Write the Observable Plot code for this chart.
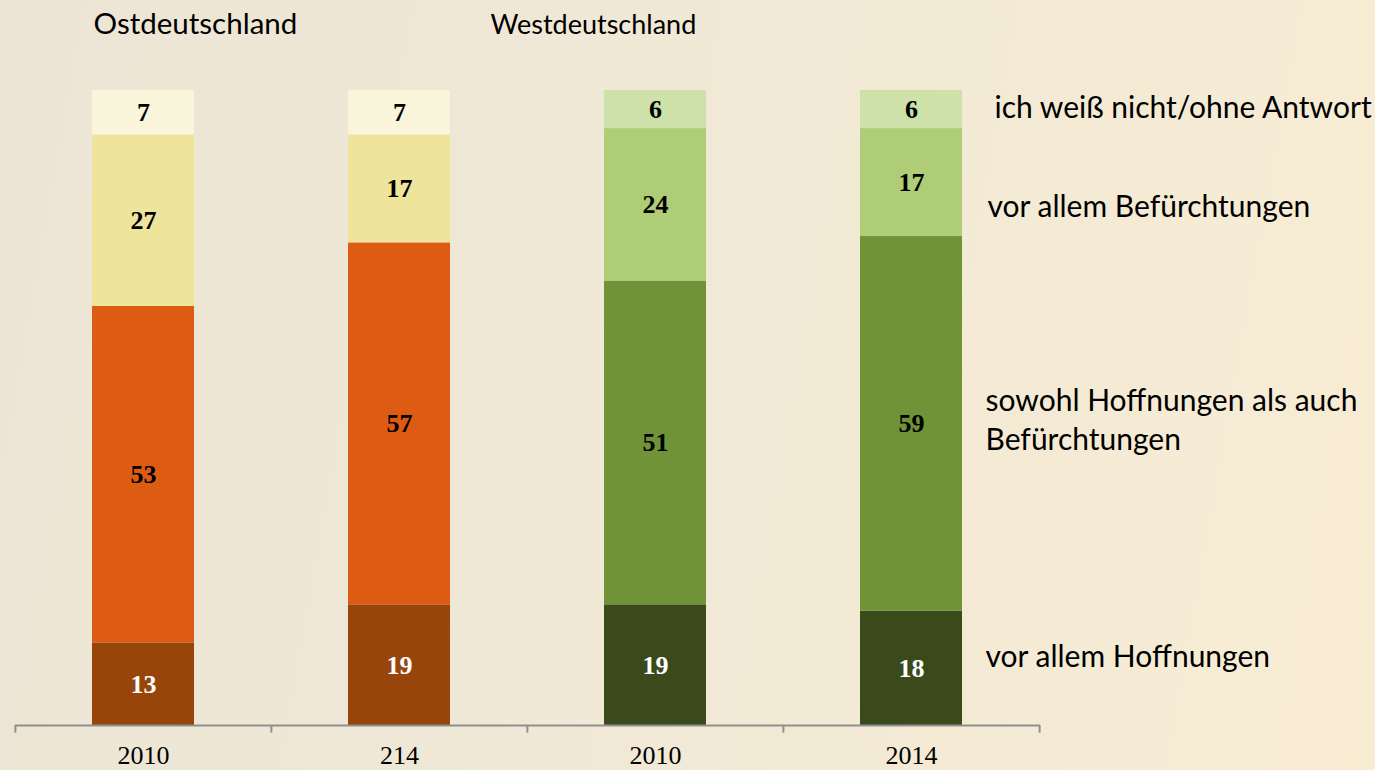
<!DOCTYPE html>
<html>
<head>
<meta charset="utf-8">
<script src="https://cdn.jsdelivr.net/npm/d3@7"></script>
<script src="https://cdn.jsdelivr.net/npm/@observablehq/plot@0.6"></script>
<style>
  html, body { margin: 0; padding: 0; }
  body { width: 1375px; height: 770px; overflow: hidden;
         background: linear-gradient(100deg, #ece5d5 0%, #f1e9d6 50%, #f8ecd3 100%); }
  #chart svg { display: block; background: transparent; }
</style>
</head>
<body>
<div id="chart"></div>
<script>
// ---- data ----
const categories = ["Ost 2010", "Ost 2014", "West 2010", "West 2014"];
const tickLabels = ["2010", "214", "2010", "2014"];
const groupTitles = ["Ostdeutschland", "Westdeutschland"];
const responses = [
  "vor allem Hoffnungen",
  "sowohl Hoffnungen als auch\nBefürchtungen",
  "vor allem Befürchtungen",
  "ich weiß nicht/ohne Antwort"
];
const ost2010 = [13, 53, 27, 7];
const ost2014 = [19, 57, 17, 7];
const west2010 = [19, 51, 24, 6];
const west2014 = [18, 59, 17, 6];
const ostColors = ["#97450a", "#de5b14", "#eee49b", "#f9f5da"];
const westColors = ["#3a4a1b", "#6f9336", "#afcd76", "#cde1a9"];

const seriesValues = [ost2010, ost2014, west2010, west2014];
const seriesColors = [ostColors, ostColors, westColors, westColors];
const data = [];
categories.forEach((c, i) => {
  responses.forEach((r, j) => {
    data.push({cat: c, response: r, idx: j, value: seriesValues[i][j], color: seriesColors[i][j]});
  });
});

// right-hand labels placed at the midpoints of the West 2010 stack
let acc = 0;
const labelRows = responses.map((r, j) => {
  const mid = acc + west2010[j] / 2;
  acc += west2010[j];
  return {response: r, y: mid, cat: categories[3]};
});
const labelDy = [-11, -25, 0, -4];
const labelDx = [74, 74, 76, 83];

const W = 1375, H = 770;
const marginLeft = 15, marginRight = 335, marginTop = 90, marginBottom = 45;
const step = (W - marginLeft - marginRight) / categories.length;

const tickFmt = d => tickLabels[categories.indexOf(d)];

const plot = Plot.plot({
  width: W,
  height: H,
  marginLeft, marginRight, marginTop, marginBottom,
  style: {background: "transparent", overflow: "visible"},
  x: {domain: categories, paddingInner: 0.6, paddingOuter: 0.3, align: 0.5, tickFormat: tickFmt,
      tickSize: 0, tickPadding: 20, label: null, fontFamily: "Liberation Serif"},
  y: {domain: [0, 100], axis: null},
  color: {type: "identity"},
  marks: [
    Plot.barY(data, Plot.stackY({x: "cat", y: "value", z: "idx", order: null, fill: "color"})),
    Plot.text(data, Plot.stackY({x: "cat", y: "value", z: "idx", order: null, text: "value",
      fill: d => d.idx === 0 ? "white" : "black",
      fontFamily: "Liberation Serif", fontWeight: "bold", fontSize: 26})),
    Plot.ruleY([0], {stroke: "#8f8f8f", strokeWidth: 2}),
    Plot.ruleX(categories, {x: d => d, y1: 0, y2: -1.2, dx: -step / 2, stroke: "#8f8f8f", strokeWidth: 2}),
    Plot.ruleX(categories.slice(-1), {x: d => d, y1: 0, y2: -1.2, dx: step / 2, stroke: "#8f8f8f", strokeWidth: 2}),
    ...labelRows.map((row, j) => Plot.text([row], {
      x: "cat", y: "y", text: "response", textAnchor: "start", lineAnchor: "middle",
      dx: labelDx[j], dy: labelDy[j], fontFamily: "Lato", fontSize: 30, lineHeight: 1.3, fill: "black"
    })),
    Plot.text([groupTitles[0]], {frameAnchor: "top-left", text: d => d, dx: 93 - marginLeft, dy: 24 - marginTop,
      lineAnchor: "middle", textAnchor: "start", fontFamily: "Lato", fontSize: 29.5, fill: "black"}),
    Plot.text([groupTitles[1]], {frameAnchor: "top-left", text: d => d, dx: 490 - marginLeft, dy: 25 - marginTop,
      lineAnchor: "middle", textAnchor: "start", fontFamily: "Lato", fontSize: 27, fill: "black"})
  ]
});
document.getElementById("chart").appendChild(plot);

const svg = d3.select(plot);
svg.selectAll('g[aria-label="x-axis tick label"]')
  .attr("font-size", 26).attr("font-family", "Liberation Serif").attr("fill", "black");
</script>
</body>
</html>
